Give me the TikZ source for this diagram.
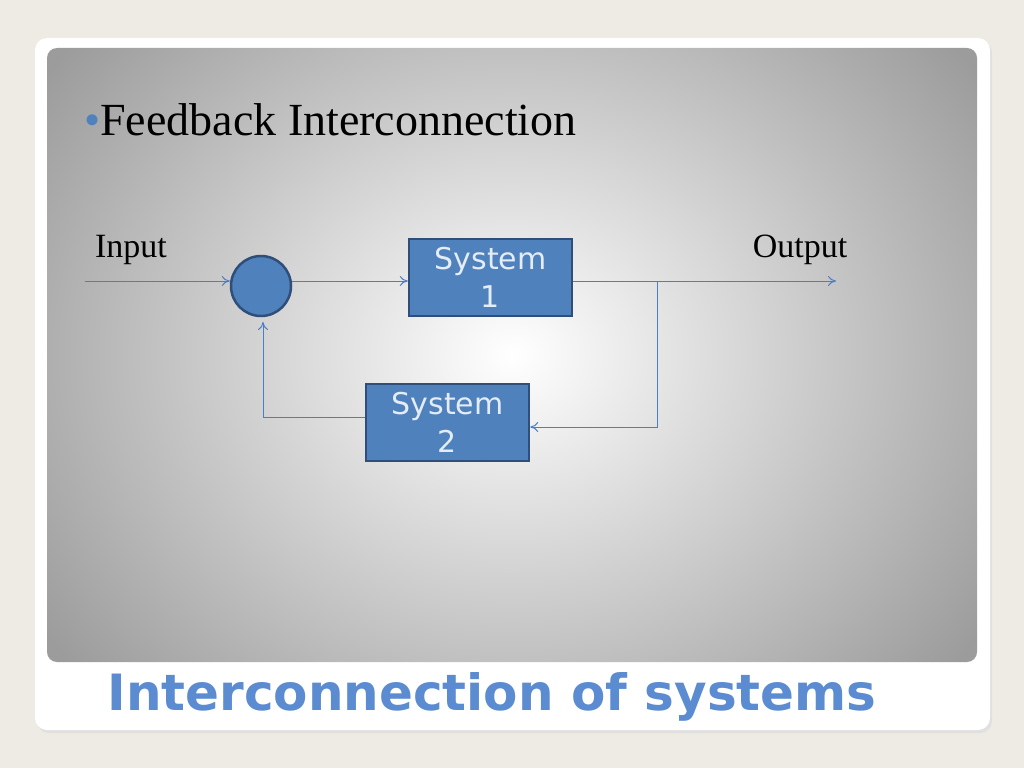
\documentclass[tikz,border=0pt]{standalone}
\usepackage{fontspec}
\setmainfont{Liberation Serif}
\newfontfamily\boxfont{DejaVu Sans}
\newfontfamily\titlefont{DejaVu Sans}
\usetikzlibrary{arrows.meta,shadings}
\definecolor{bg}{HTML}{EDEBE3}
\definecolor{blk}{HTML}{4F81BD}
\definecolor{blkd}{HTML}{2F4F7A}
\definecolor{ttl}{HTML}{5B8BD0}
\definecolor{lne}{HTML}{4A7EC8}
\definecolor{edge}{HTML}{9C9C9C}
\tikzset{
  sysbox/.style={draw=blkd,line width=2.5pt,fill=blk,minimum width=163pt,minimum height=77pt,inner sep=0pt,align=center,text=white!85!blk,font=\boxfont\fontsize{30}{38}\selectfont},
  sumnode/.style={circle,draw=blkd,line width=2.5pt,fill=blk,minimum size=60pt,inner sep=0pt},
  conn/.style={draw=lne,line width=1pt,-{To[length=8pt,width=10pt]}},
  lbl/.style={font=\fontsize{34}{34}\selectfont,inner sep=0pt}
}
\begin{document}
\begin{tikzpicture}[x=1pt,y=-1pt]
\fill[bg] (0,0) rectangle (1024,768);
\useasboundingbox (0,0) rectangle (1024,768);
\fill[black!12,rounded corners=12pt] (37,41) rectangle (992,733);
\fill[white,rounded corners=12pt] (35,38) rectangle (990,730);
\begin{scope}
\clip[rounded corners=10pt] (47,48) rectangle (977,662);
\shade[inner color=white,outer color=edge] (-60,-130) rectangle (1084,840);
\end{scope}
\node[anchor=west,font=\fontsize{46}{46}\selectfont,inner sep=0pt] (head) at (84,120) {\textcolor{blk}{•}Feedback Interconnection};
\node[font=\titlefont\bfseries\fontsize{50}{50}\selectfont,text=ttl,inner sep=0pt] (title) at (492,697) {Interconnection of systems};
\node[lbl] (inlbl) at (131,250) {Input};
\node[lbl] (outlbl) at (800,250) {Output};
\node[sumnode] (sum) at (261,286) {};
\node[sysbox] (s1) at (490.5,277.5) {System\\1};
\node[sysbox] (s2) at (447.5,422.5) {System\\2};
\coordinate (in) at (85,281);
\coordinate (out) at (836,281);
\coordinate (br) at (657,281);
\draw[conn] (in) -- (in -| sum.west);
\draw[conn] (sum.east |- in) -- (s1.west |- in);
\draw[conn] (s1.east |- in) -- (out);
\draw[conn] (br) -- (br |- 0,427) -- (s2.east |- 0,427);
\draw[conn] (s2.west |- 0,417) -- (263,417) -- (263,322);
\end{tikzpicture}
\end{document}
